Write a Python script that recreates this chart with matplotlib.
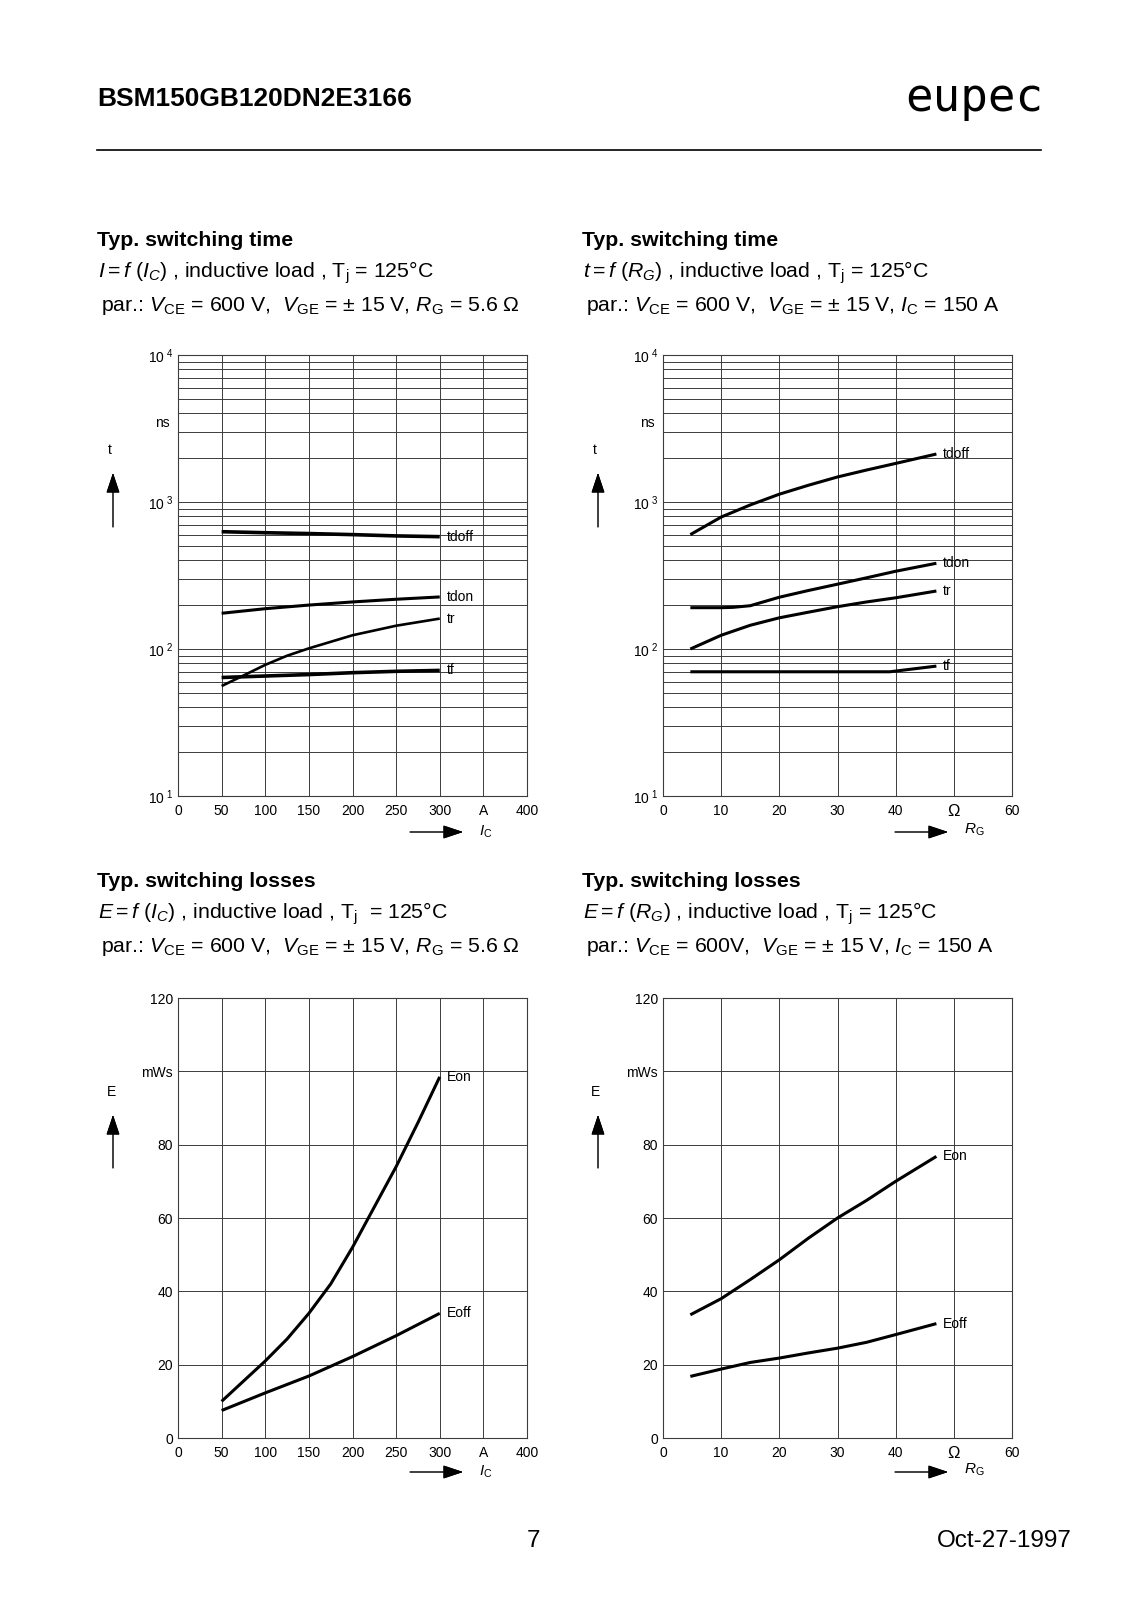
import matplotlib
matplotlib.use("Agg")
import matplotlib.pyplot as plt
from matplotlib.ticker import FixedLocator, LogLocator, NullFormatter

plt.rcParams["font.family"] = ["Liberation Sans", "DejaVu Sans"]
plt.rcParams["mathtext.fontset"] = "custom"
plt.rcParams["mathtext.rm"] = "Liberation Sans"
plt.rcParams["mathtext.it"] = "Liberation Sans:italic"
plt.rcParams["mathtext.bf"] = "Liberation Sans:bold"

# ---------------- data ----------------
# switching time vs collector current (ns)
ic_time = [50, 100, 150, 200, 250, 300]
tdoff_ic = [628, 618, 610, 600, 588, 581]
tdon_ic = [175, 188, 199, 209, 218, 226]
tf_ic = [64, 65.5, 67, 69, 70.5, 71.5]
ic_tr = [50, 75, 100, 125, 150, 200, 250, 300]
tr_ic = [56, 66, 78, 90, 101, 124, 144, 161]

# switching time vs gate resistor (ns)
rg_time = [4.7, 10, 15, 20, 25, 30, 35, 40, 47]
tdoff_rg = [600, 790, 955, 1130, 1300, 1480, 1650, 1830, 2120]
tr_rg = [100, 124, 145, 163, 178, 194, 209, 223, 248]
rg_tdon = [4.7, 10, 12, 15, 20, 25, 30, 35, 40, 47]
tdon_rg = [191, 191, 192, 197, 225, 250, 276, 305, 338, 383]
rg_tf = [4.7, 39, 47]
tf_rg = [70, 70, 76.5]

# switching losses vs collector current (mWs)
ic_eon = [50, 75, 100, 125, 150, 175, 200, 225, 250, 275, 300]
eon_ic = [10, 15.5, 21, 27, 34, 42, 52, 63, 74, 86, 98.5]
ic_eoff = [50, 100, 150, 200, 250, 300]
eoff_ic = [7.5, 12.3, 16.9, 22.2, 27.9, 34]

# switching losses vs gate resistor (mWs)
rg_loss = [4.7, 10, 15, 20, 25, 30, 35, 40, 47]
eon_rg = [33.6, 38, 43.2, 48.6, 54.5, 60, 64.8, 70, 76.8]
eoff_rg = [16.8, 18.8, 20.6, 21.8, 23.2, 24.5, 26.1, 28.2, 31.2]

# axis ticks
ic_ticks = [0, 50, 100, 150, 200, 250, 300, 350, 400]
ic_labels = ["0", "50", "100", "150", "200", "250", "300", "A", "400"]
rg_ticks = [0, 10, 20, 30, 40, 50, 60]
rg_labels = ["0", "10", "20", "30", "40", "Ω", "60"]
t_ticks = [10, 100, 1000, 10000]
t_labels = [r"10$^{\ 1}$", r"10$^{\ 2}$", r"10$^{\ 3}$", r"10$^{\ 4}$"]
e_ticks = [0, 20, 40, 60, 80, 100, 120]
e_labels = ["0", "20", "40", "60", "80", "mWs", "120"]

W, H = 1131, 1600
GRID = "#3c3c3c"


def rect(l, t, r, b):
    return [l / W, 1 - b / H, (r - l) / W, (b - t) / H]


def ftext(x, y, s, **kw):
    # x, y in pixels from top-left
    fig.text(x / W, 1 - y / H, s, **kw)


def arrow(x0, y0, x1, y1):
    fig.add_artist(plt.annotate(
        "", xy=(x1, H - y1), xytext=(x0, H - y0),
        xycoords="figure pixels", textcoords="figure pixels",
        arrowprops=dict(arrowstyle="-|>,head_length=0.9,head_width=0.3",
                        color="black", lw=0.7, mutation_scale=14,
                        shrinkA=0, shrinkB=0)))


def setup(ax, xticks, xlabels, yticks, ylabels, log=False):
    if log:
        ax.set_yscale("log")
        ax.yaxis.set_minor_locator(LogLocator(base=10, subs=range(2, 10)))
        ax.yaxis.set_minor_formatter(NullFormatter())
    ax.set_xlim(xticks[0], xticks[-1])
    ax.set_ylim(yticks[0], yticks[-1])
    ax.xaxis.set_major_locator(FixedLocator(xticks))
    ax.set_xticklabels(xlabels)
    ax.yaxis.set_major_locator(FixedLocator(yticks))
    ax.set_yticklabels(ylabels)
    ax.tick_params(which="both", length=0, labelsize=10)
    ax.tick_params(axis="x", pad=5.5)
    ax.tick_params(axis="y", pad=3.5)
    ax.grid(True, which="both", color=GRID, lw=0.7)
    for s in ax.spines.values():
        s.set_color(GRID)
        s.set_linewidth(0.8)
    for lbl in ax.get_xticklabels():
        if lbl.get_text() == "Ω":
            lbl.set_fontsize(12)


def curve(ax, x, y, name, lw=2.2):
    ax.plot(x, y, color="black", lw=lw, solid_capstyle="butt", zorder=3)
    ax.annotate(name, xy=(x[-1], y[-1]), xytext=(5, 0),
                textcoords="offset points", va="center", fontsize=10)


fig = plt.figure(figsize=(11.31, 16), dpi=100)

# header
ftext(97, 106, "BSM150GB120DN2E3166", fontsize=19, fontweight="bold")
ftext(905, 111, "eupec", fontsize=33, family="DejaVu Sans Mono")
fig.add_artist(plt.Line2D([97 / W, 1041 / W], [1 - 150 / H] * 2, color="black", lw=1.2))

# titles
TS = 15.3
for x0, yb, title, l2, l3 in [
    (97, 246, "Typ. switching time",
     r"$I = f\ (I_C)$ , inductive load , T$_{\rm j}$ = 125°C",
     r"par.: $V_{\rm CE}$ = 600 V,  $V_{\rm GE}$ = ± 15 V, $R_{\rm G}$ = 5.6 Ω"),
    (582, 246, "Typ. switching time",
     r"$t = f\ (R_G)$ , inductive load , T$_{\rm j}$ = 125°C",
     r"par.: $V_{\rm CE}$ = 600 V,  $V_{\rm GE}$ = ± 15 V, $I_{\rm C}$ = 150 A"),
    (97, 887, "Typ. switching losses",
     r"$E = f\ (I_C)$ , inductive load , T$_{\rm j}$  = 125°C",
     r"par.: $V_{\rm CE}$ = 600 V,  $V_{\rm GE}$ = ± 15 V, $R_{\rm G}$ = 5.6 Ω"),
    (582, 887, "Typ. switching losses",
     r"$E = f\ (R_G)$ , inductive load , T$_{\rm j}$ = 125°C",
     r"par.: $V_{\rm CE}$ = 600V,  $V_{\rm GE}$ = ± 15 V, $I_{\rm C}$ = 150 A"),
]:
    ftext(x0, yb, title, fontsize=TS, fontweight="bold")
    ftext(x0 + 1, yb + 32, l2, fontsize=TS)
    ftext(x0 + 4, yb + 65, l3, fontsize=TS)

# ---- top left: t = f(IC)
ax1 = fig.add_axes(rect(178, 355, 527, 796))
setup(ax1, ic_ticks, ic_labels, t_ticks, t_labels, log=True)
curve(ax1, ic_time, tdoff_ic, "tdoff", lw=2.6)
curve(ax1, ic_time, tdon_ic, "tdon")
curve(ax1, ic_tr, tr_ic, "tr", lw=1.9)
curve(ax1, ic_time, tf_ic, "tf", lw=2.6)

# ---- top right: t = f(RG)
ax2 = fig.add_axes(rect(663, 355, 1012, 796))
setup(ax2, rg_ticks, rg_labels, t_ticks, t_labels, log=True)
curve(ax2, rg_time, tdoff_rg, "tdoff")
curve(ax2, rg_tdon, tdon_rg, "tdon")
curve(ax2, rg_time, tr_rg, "tr")
curve(ax2, rg_tf, tf_rg, "tf")

# ---- bottom left: E = f(IC)
ax3 = fig.add_axes(rect(178, 998, 527, 1438))
setup(ax3, ic_ticks, ic_labels, e_ticks, e_labels)
curve(ax3, ic_eon, eon_ic, "Eon")
curve(ax3, ic_eoff, eoff_ic, "Eoff")

# ---- bottom right: E = f(RG)
ax4 = fig.add_axes(rect(663, 998, 1012, 1438))
setup(ax4, rg_ticks, rg_labels, e_ticks, e_labels)
curve(ax4, rg_loss, eon_rg, "Eon")
curve(ax4, rg_loss, eoff_rg, "Eoff")

# axis quantity labels and arrows
for dx in (0, 485):
    # top row
    ftext(110 + dx, 450, "t", fontsize=10, ha="center", va="center")
    arrow(113 + dx, 527, 113 + dx, 473)
    ftext(170 + dx, 423, "ns", fontsize=10, ha="right", va="center")
    arrow(410 + dx, 832, 463 + dx, 832)
    # bottom row
    ftext(111 + dx, 1092, "E", fontsize=10, ha="center", va="center")
    arrow(113 + dx, 1168, 113 + dx, 1115)
    arrow(410 + dx, 1472, 463 + dx, 1472)

ftext(479, 832, r"$I_{\rm C}$", fontsize=11, va="center")
ftext(964, 830, r"$R_{\rm G}$", fontsize=11, va="center")
ftext(479, 1472, r"$I_{\rm C}$", fontsize=11, va="center")
ftext(964, 1470, r"$R_{\rm G}$", fontsize=11, va="center")

# footer
ftext(534, 1547, "7", fontsize=17.5, ha="center")
ftext(1072, 1547, "Oct-27-1997", fontsize=17.5, ha="right")

fig.savefig("out.png", dpi=100, facecolor="white")
